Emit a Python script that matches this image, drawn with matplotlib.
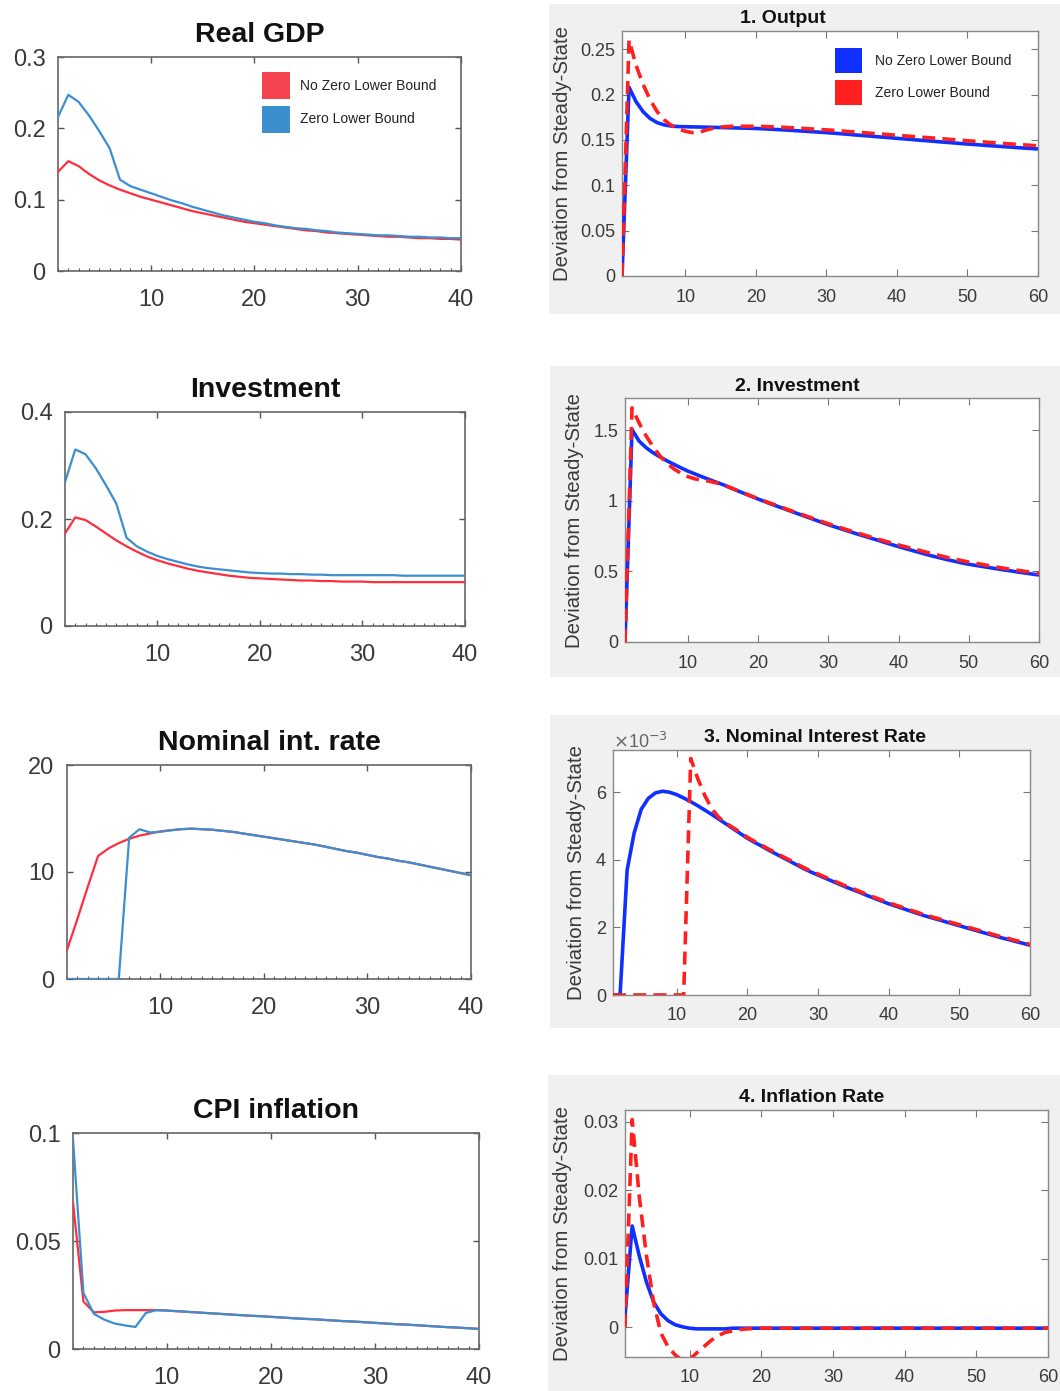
import numpy as np
import matplotlib
matplotlib.use('Agg')
import matplotlib.pyplot as plt
from matplotlib.patches import Patch, Rectangle
from matplotlib.ticker import FixedLocator

plt.rcParams['font.family'] = ['Liberation Sans', 'DejaVu Sans']

# ---------------- data: left figure (periods 1..40) ----------------
periods_left = np.arange(1, 41)

gdp_nozlb = [0.139, 0.154, 0.147, 0.136, 0.127, 0.120, 0.114, 0.109, 0.104, 0.100,
             0.096, 0.092, 0.088, 0.084, 0.081, 0.078, 0.075, 0.072, 0.069, 0.067,
             0.065, 0.063, 0.061, 0.059, 0.057, 0.056, 0.054, 0.053, 0.052, 0.051,
             0.050, 0.049, 0.048, 0.048, 0.047, 0.046, 0.046, 0.045, 0.045, 0.044]
gdp_zlb = [0.216, 0.247, 0.237, 0.218, 0.196, 0.172, 0.128, 0.119, 0.114, 0.109,
           0.104, 0.099, 0.095, 0.090, 0.086, 0.082, 0.078, 0.075, 0.072, 0.069,
           0.067, 0.064, 0.062, 0.060, 0.059, 0.057, 0.056, 0.054, 0.053, 0.052,
           0.051, 0.050, 0.050, 0.049, 0.048, 0.048, 0.047, 0.047, 0.046, 0.046]

inv_nozlb = [0.173, 0.203, 0.198, 0.186, 0.173, 0.160, 0.149, 0.139, 0.130, 0.123,
             0.117, 0.112, 0.107, 0.103, 0.100, 0.097, 0.094, 0.092, 0.090, 0.089,
             0.088, 0.087, 0.086, 0.085, 0.085, 0.084, 0.084, 0.083, 0.083, 0.083,
             0.082, 0.082, 0.082, 0.082, 0.082, 0.082, 0.082, 0.082, 0.082, 0.082]
inv_zlb = [0.269, 0.330, 0.321, 0.295, 0.263, 0.229, 0.165, 0.149, 0.139, 0.131,
           0.125, 0.120, 0.115, 0.111, 0.108, 0.106, 0.104, 0.102, 0.100, 0.099,
           0.098, 0.098, 0.097, 0.097, 0.096, 0.096, 0.095, 0.095, 0.095, 0.095,
           0.095, 0.095, 0.095, 0.094, 0.094, 0.094, 0.094, 0.094, 0.094, 0.094]

rate_nozlb = [2.7, 5.6, 8.6, 11.5, 12.2, 12.7, 13.1, 13.4, 13.6, 13.8,
              13.9, 14.0, 14.05, 14.0, 13.95, 13.85, 13.75, 13.6, 13.45, 13.3,
              13.15, 13.0, 12.85, 12.7, 12.55, 12.35, 12.15, 11.95, 11.8, 11.6,
              11.4, 11.25, 11.05, 10.9, 10.7, 10.5, 10.3, 10.1, 9.9, 9.7]
rate_zlb = [0.0, 0.0, 0.0, 0.0, 0.0, 0.0, 13.2, 14.0, 13.7, 13.75,
            13.9, 14.0, 14.05, 14.0, 13.95, 13.85, 13.75, 13.6, 13.45, 13.3,
            13.15, 13.0, 12.85, 12.7, 12.55, 12.35, 12.15, 11.95, 11.8, 11.6,
            11.4, 11.25, 11.05, 10.9, 10.7, 10.5, 10.3, 10.1, 9.9, 9.7]

cpi_nozlb = [0.068, 0.022, 0.017, 0.0172, 0.0178, 0.018, 0.018, 0.018, 0.018, 0.0178,
             0.0175, 0.0172, 0.0169, 0.0166, 0.0163, 0.016, 0.0157, 0.0154, 0.0152, 0.0149,
             0.0146, 0.0143, 0.014, 0.0138, 0.0135, 0.0132, 0.0129, 0.0127, 0.0124, 0.0121,
             0.0118, 0.0115, 0.0113, 0.011, 0.0107, 0.0104, 0.0101, 0.0099, 0.0096, 0.0093]
cpi_zlb = [0.097, 0.026, 0.0163, 0.0136, 0.0118, 0.0109, 0.0102, 0.0167, 0.018, 0.0178,
           0.0175, 0.0172, 0.0169, 0.0166, 0.0163, 0.016, 0.0157, 0.0154, 0.0152, 0.0149,
           0.0146, 0.0143, 0.014, 0.0138, 0.0135, 0.0132, 0.0129, 0.0127, 0.0124, 0.0121,
           0.0118, 0.0115, 0.0113, 0.011, 0.0107, 0.0104, 0.0101, 0.0099, 0.0096, 0.0093]

left_titles = ['Real GDP', 'Investment', 'Nominal int. rate', 'CPI inflation']
left_legend = ['No Zero Lower Bound', 'Zero Lower Bound']

# ---------------- data: right figure (periods 1..60) ----------------
periods_right = np.arange(1, 61)

out_nozlb = [0.0, 0.208, 0.192, 0.181, 0.1735, 0.169, 0.1665, 0.1652, 0.1647, 0.1645,
             0.1643, 0.1642, 0.1640, 0.1638, 0.1636, 0.1634, 0.1632, 0.1630, 0.1628, 0.1626,
             0.1622, 0.1618, 0.1614, 0.1610, 0.1605, 0.1600, 0.1595, 0.1590, 0.1585, 0.1580,
             0.1574, 0.1568, 0.1562, 0.1555, 0.1549, 0.1543, 0.1536, 0.1530, 0.1524, 0.1517,
             0.1511, 0.1505, 0.1498, 0.1492, 0.1486, 0.1479, 0.1473, 0.1467, 0.1460, 0.1454,
             0.1449, 0.1443, 0.1437, 0.1432, 0.1426, 0.1421, 0.1415, 0.1410, 0.1405, 0.1400]
out_zlb = [0.0, 0.260, 0.232, 0.211, 0.194, 0.181, 0.172, 0.166, 0.162, 0.1595,
           0.158, 0.1585, 0.161, 0.163, 0.164, 0.1648, 0.165, 0.165, 0.165, 0.165,
           0.1648, 0.1645, 0.1642, 0.1638, 0.1634, 0.163, 0.1625, 0.162, 0.1615, 0.161,
           0.1605, 0.1599, 0.1593, 0.1587, 0.1581, 0.1575, 0.1569, 0.1563, 0.1557, 0.155,
           0.1545, 0.1539, 0.1533, 0.1527, 0.1521, 0.1515, 0.1509, 0.1503, 0.1497, 0.149,
           0.1485, 0.1479, 0.1473, 0.1467, 0.1461, 0.1456, 0.145, 0.1445, 0.144, 0.1435]

invr_nozlb = [0.0, 1.507, 1.425, 1.378, 1.342, 1.312, 1.284, 1.259, 1.234, 1.211,
              1.191, 1.171, 1.152, 1.133, 1.115, 1.094, 1.073, 1.053, 1.033, 1.013,
              0.994, 0.975, 0.957, 0.939, 0.921, 0.903, 0.885, 0.867, 0.849, 0.831,
              0.815, 0.799, 0.783, 0.767, 0.752, 0.737, 0.722, 0.706, 0.691, 0.676,
              0.662, 0.648, 0.634, 0.620, 0.607, 0.595, 0.583, 0.572, 0.561, 0.551,
              0.543, 0.535, 0.527, 0.519, 0.511, 0.504, 0.496, 0.489, 0.482, 0.475]
invr_zlb = [0.0, 1.66, 1.554, 1.462, 1.385, 1.318, 1.266, 1.226, 1.196, 1.172,
            1.156, 1.148, 1.140, 1.128, 1.115, 1.095, 1.075, 1.055, 1.035, 1.016,
            0.997, 0.979, 0.961, 0.943, 0.925, 0.908, 0.890, 0.873, 0.855, 0.838,
            0.822, 0.806, 0.790, 0.775, 0.760, 0.745, 0.730, 0.716, 0.702, 0.688,
            0.675, 0.662, 0.649, 0.636, 0.623, 0.611, 0.599, 0.588, 0.577, 0.567,
            0.558, 0.549, 0.540, 0.531, 0.523, 0.515, 0.508, 0.501, 0.494, 0.487]

# nominal interest rate, in units of 1e-3
nom_nozlb_e3 = [0.0, 0.0, 3.7, 4.8, 5.5, 5.82, 5.98, 6.03, 6.0, 5.93,
                5.83, 5.72, 5.6, 5.47, 5.34, 5.2, 5.06, 4.92, 4.78, 4.64,
                4.52, 4.41, 4.29, 4.18, 4.07, 3.96, 3.85, 3.74, 3.64, 3.55,
                3.46, 3.37, 3.28, 3.19, 3.11, 3.03, 2.94, 2.86, 2.78, 2.70,
                2.63, 2.56, 2.49, 2.42, 2.35, 2.29, 2.23, 2.17, 2.11, 2.05,
                1.99, 1.93, 1.87, 1.81, 1.75, 1.69, 1.64, 1.58, 1.53, 1.47]
nom_zlb_e3 = [0.0, 0.0, 0.0, 0.0, 0.0, 0.0, 0.0, 0.0, 0.0, 0.0,
              0.0, 7.0, 6.4, 5.9, 5.5, 5.25, 5.08, 4.95, 4.81, 4.67,
              4.55, 4.44, 4.32, 4.21, 4.10, 3.99, 3.88, 3.77, 3.67, 3.58,
              3.49, 3.40, 3.31, 3.22, 3.14, 3.06, 2.97, 2.89, 2.81, 2.73,
              2.66, 2.59, 2.52, 2.45, 2.38, 2.32, 2.26, 2.20, 2.14, 2.08,
              2.02, 1.96, 1.90, 1.84, 1.78, 1.72, 1.67, 1.61, 1.56, 1.50]

infl_nozlb = [0.0016, 0.0148, 0.0104, 0.0066, 0.0037, 0.0020, 0.0010, 0.0004, 0.0001, -0.0001,
              -0.0002, -0.0002, -0.0002, -0.0002, -0.0002] + [-0.0001] * 45
infl_zlb = [0.0, 0.0303, 0.019, 0.0104, 0.0036, -0.0008, -0.0028, -0.0040, -0.0048, -0.0047,
            -0.0037, -0.0028, -0.0019, -0.0012, -0.0007, -0.0005, -0.0003, -0.0002, -0.00015] + [-0.0001] * 41

right_titles = ['1. Output', '2. Investment', '3. Nominal Interest Rate', '4. Inflation Rate']
right_legend = ['No Zero Lower Bound', 'Zero Lower Bound']
ylabel_right = 'Deviation from Steady-State'

# ---------------- figure ----------------
W, H = 1060, 1391
fig = plt.figure(figsize=(W / 100, H / 100), dpi=100)
fig.patch.set_facecolor('white')

def add_ax(l, t, r, b):
    return fig.add_axes([l / W, 1 - b / H, (r - l) / W, (b - t) / H])

L_RED = '#ff2e3e'
L_BLUE = '#3b8fd0'
L_RED_PATCH = '#f5434f'
L_BLUE_PATCH = '#3a8fcc'
R_BLUE = '#1030ff'
R_RED = '#ff1f1f'
TXT = '#3a3a3a'

# gray backgrounds of the right-hand figure
for (l, t, r, b) in [(549, 4, 1060, 314), (550, 366, 1060, 677),
                     (550, 715, 1060, 1028), (548, 1075, 1060, 1391)]:
    fig.add_artist(Rectangle((l / W, 1 - b / H), (r - l) / W, (b - t) / H,
                             transform=fig.transFigure, facecolor='#f0f0f0',
                             edgecolor='none', zorder=0))

# ---------------- left panels ----------------
left_boxes = [(58, 57, 461, 271), (65, 412, 465, 626), (67, 765, 471, 979), (73, 1133, 479, 1349)]
left_series = [(gdp_nozlb, gdp_zlb), (inv_nozlb, inv_zlb), (rate_nozlb, rate_zlb), (cpi_nozlb, cpi_zlb)]
left_ylims = [(0, 0.3), (0, 0.4), (0, 20), (0, 0.1)]
left_yticks = [[0, 0.1, 0.2, 0.3], [0, 0.2, 0.4], [0, 10, 20], [0, 0.05, 0.1]]
left_yticklabels = [['0', '0.1', '0.2', '0.3'], ['0', '0.2', '0.4'], ['0', '10', '20'], ['0', '0.05', '0.1']]

for i, box in enumerate(left_boxes):
    ax = add_ax(*box)
    red, blue = left_series[i]
    ax.plot(periods_left, red, color=L_RED, lw=1.6, zorder=3)
    ax.plot(periods_left, blue, color=L_BLUE, lw=1.6, zorder=4)
    ax.set_xlim(1, 40)
    ax.set_ylim(*left_ylims[i])
    ax.set_xticks([10, 20, 30, 40])
    ax.set_yticks(left_yticks[i])
    ax.set_yticklabels(left_yticklabels[i])
    ax.xaxis.set_minor_locator(FixedLocator(list(periods_left)))
    ax.tick_params(which='major', direction='in', length=4, width=1, color='#555555',
                   top=True, right=True, labelsize=17, labelcolor=TXT)
    ax.tick_params(axis='x', which='major', pad=13)
    ax.tick_params(axis='y', which='major', pad=9)
    ax.tick_params(axis='x', which='minor', direction='in', length=2.5, width=0.8,
                   color='#555555', top=False, bottom=True)
    for s in ax.spines.values():
        s.set_color('#666666')
        s.set_linewidth(1.2)
    ax.set_title(left_titles[i], fontsize=20.5, fontweight='bold', color='#111111', pad=11)
    if i == 0:
        handles = [Patch(facecolor=L_RED_PATCH, edgecolor='none'),
                   Patch(facecolor=L_BLUE_PATCH, edgecolor='none')]
        fig.legend(handles, left_legend, loc='upper left',
                   bbox_to_anchor=(262 / W, 1 - 72 / H), frameon=False, fontsize=10,
                   handlelength=2.0, handleheight=2.6, labelspacing=0.5,
                   handletextpad=0.75, borderpad=0, borderaxespad=0,
                   labelcolor='#222222')

# ---------------- right panels ----------------
right_boxes = [(622, 31, 1038, 276), (625, 398, 1039, 642), (613, 750, 1030, 995), (625, 1110, 1048, 1357)]
right_series = [(out_nozlb, out_zlb), (invr_nozlb, invr_zlb), (nom_nozlb_e3, nom_zlb_e3), (infl_nozlb, infl_zlb)]
right_ylims = [(0, 0.27), (0, 1.73), (0, 7.25), (-0.0043, 0.0317)]
right_yticks = [[0, 0.05, 0.1, 0.15, 0.2, 0.25], [0, 0.5, 1, 1.5], [0, 2, 4, 6], [0, 0.01, 0.02, 0.03]]
right_yticklabels = [['0', '0.05', '0.1', '0.15', '0.2', '0.25'], ['0', '0.5', '1', '1.5'],
                     ['0', '2', '4', '6'], ['0', '0.01', '0.02', '0.03']]
right_title_x = [783, 797, 815, 812]
right_title_base = [23, 391, 742, 1102]
right_ylabel_x = [562, 575, 577, 563]

for i, box in enumerate(right_boxes):
    ax = add_ax(*box)
    blue, red = right_series[i]
    ax.plot(periods_right, blue, color=R_BLUE, lw=2.6, zorder=3, solid_capstyle='butt')
    ax.plot(periods_right, red, color=R_RED, lw=2.6, zorder=4, dashes=(3.6, 2.0))
    ax.set_xlim(1, 60)
    ax.set_ylim(*right_ylims[i])
    ax.set_xticks([10, 20, 30, 40, 50, 60])
    ax.set_yticks(right_yticks[i])
    ax.set_yticklabels(right_yticklabels[i])
    ax.tick_params(direction='in', length=5, width=0.8, color='#777777',
                   top=True, right=True, labelsize=13, labelcolor=TXT)
    ax.tick_params(axis='x', pad=9)
    ax.tick_params(axis='y', pad=5)
    for s in ax.spines.values():
        s.set_color('#888888')
        s.set_linewidth(1.0)
    l, t, r, b = box
    fig.text(right_title_x[i] / W, 1 - right_title_base[i] / H, right_titles[i],
             fontsize=14, fontweight='bold', color='#111111', ha='center', va='baseline')
    fig.text(right_ylabel_x[i] / W, 1 - ((t + b) / 2) / H, ylabel_right, rotation=90,
             fontsize=14.7, color=TXT, ha='center', va='center')
    if i == 2:
        fig.text(613 / W, 1 - 748 / H, r'$\times$10$^{-3}$', fontsize=13, color='#666666',
                 ha='left', va='baseline')
    if i == 0:
        handles = [Patch(facecolor=R_BLUE, edgecolor='none'),
                   Patch(facecolor=R_RED, edgecolor='none')]
        fig.legend(handles, right_legend, loc='upper left',
                   bbox_to_anchor=(835 / W, 1 - 48 / H), frameon=False, fontsize=10,
                   handlelength=1.95, handleheight=2.4, labelspacing=0.5,
                   handletextpad=0.9, borderpad=0, borderaxespad=0,
                   labelcolor='#222222')

fig.savefig('out.png', dpi=100, facecolor='white')
